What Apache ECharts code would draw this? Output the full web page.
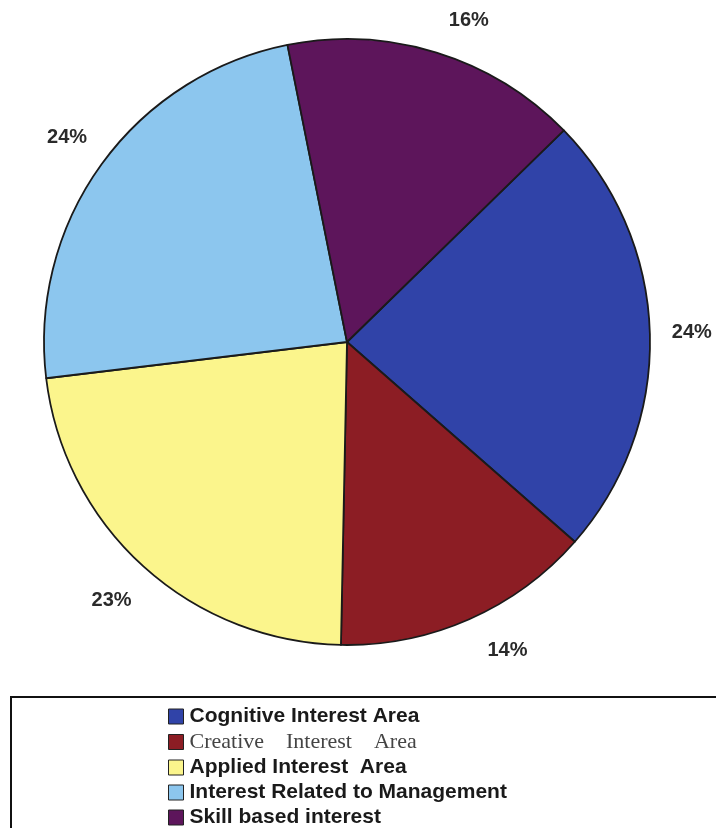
<!DOCTYPE html>
<html>
<head>
<meta charset="utf-8">
<script src="https://cdn.jsdelivr.net/npm/echarts@6/dist/echarts.min.js"></script>
<style>
html,body{margin:0;padding:0;background:#fff;}
#chart{width:716px;height:828px;}
</style>
</head>
<body>
<div id="chart"></div>
<script>
const categories = ['Cognitive Interest Area', 'Creative    Interest    Area', 'Applied Interest  Area', 'Interest Related to Management', 'Skill based interest'];
const shares = [24, 14, 23, 24, 16];
const colors = ['#3043a8', '#8c1d24', '#fbf58c', '#8cc6ee', '#5d155b'];
// small nudges of the value labels (style only)
const labelNudge = [[-3, 0], [20, -10], [-2, 0], [2, 0], [19, 11]];

const chart = echarts.init(document.getElementById('chart'));
const pieData = categories.map((n, i) => ({ name: n, value: shares[i], itemStyle: { color: colors[i] } }));
const labelData = categories.map((n, i) => ({ name: n, value: shares[i], label: { offset: labelNudge[i] } }));
const legendData = categories.map((n, i) => i === 1
  ? { name: n, textStyle: { fontFamily: 'Liberation Serif', fontWeight: 'normal', color: '#444', fontSize: 22 } }
  : { name: n });

chart.setOption({
  backgroundColor: '#ffffff',
  animation: false,
  graphic: [{
    type: 'rect',
    shape: { x: 11, y: 697, width: 720, height: 150 },
    style: { fill: 'none', stroke: '#111', lineWidth: 2 },
    z: 0
  }],
  legend: {
    orient: 'vertical',
    left: 168,
    top: 706,
    padding: 0,
    itemWidth: 15,
    itemHeight: 15,
    itemGap: 4,
    icon: 'rect',
    itemStyle: { borderColor: '#222', borderWidth: 1 },
    textStyle: { fontFamily: 'Liberation Sans', fontWeight: 'bold', fontSize: 21, color: '#1a1a1a', lineHeight: 21, padding: [0, 0, 0, 1] },
    data: legendData
  },
  series: [{
    type: 'pie',
    center: [347, 342],
    radius: 303,
    startAngle: 44.3,
    clockwise: true,
    silent: true,
    label: { show: false },
    labelLine: { show: false },
    itemStyle: { borderColor: '#1a1a1a', borderWidth: 1.8 },
    data: pieData
  }, {
    type: 'pie',
    center: [347, 342],
    radius: [335, 355],
    startAngle: 44.3,
    clockwise: true,
    silent: true,
    itemStyle: { color: 'rgba(0,0,0,0)', borderWidth: 0 },
    label: {
      show: true,
      position: 'inside',
      formatter: '{c}%',
      fontFamily: 'Liberation Sans',
      fontWeight: 'bold',
      fontSize: 20,
      color: '#2a2a2a'
    },
    labelLine: { show: false },
    data: labelData
  }]
});
</script>
</body>
</html>
